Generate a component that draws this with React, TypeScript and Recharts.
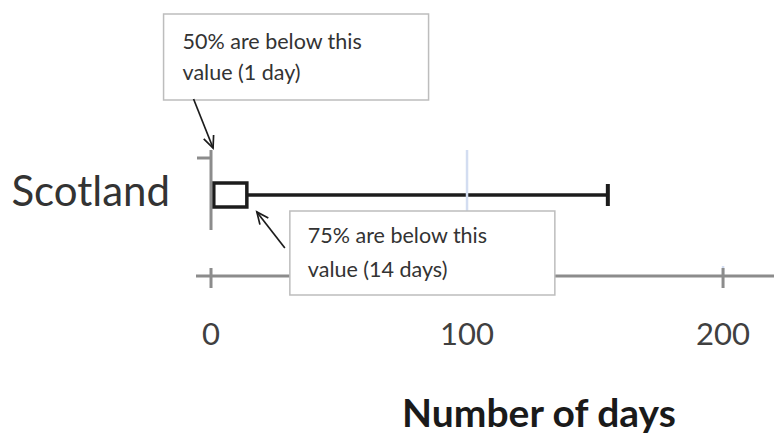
import React from "react";
import { ComposedChart, Bar, XAxis, YAxis, ReferenceLine, ReferenceDot, Label } from "recharts";

// one box plot row: days to resolve, Scotland
const categories = ["Scotland"];
const lowerQuartileDays = [1];
const medianDays = [1];
const upperQuartileDays = [14];
const maxDays = [155];
const dayTicks = [0, 100, 200];
const medianNote = ["50% are below this", "value (1 day)"];
const quartileNote = ["75% are below this", "value (14 days)"];

const data = categories.map((name, i) => ({
	name,
	lower: lowerQuartileDays[i],
	box: upperQuartileDays[i] - lowerQuartileDays[i],
	whisker: maxDays[i] - upperQuartileDays[i],
	median: medianDays[i],
	q1: lowerQuartileDays[i],
	q3: upperQuartileDays[i],
}));

const FONT = "Lato, 'Open Sans', sans-serif";
const AXIS_GREY = "#8c8c8c";
const GRID_BLUE = "#d3ddf1";
const INK = "#1c1c1c";

const BoxShape = (props: any) => {
	const { x, y, width, height, payload } = props;
	const mx = x + (width * (payload.median - payload.q1)) / (payload.q3 - payload.q1 || 1);
	return (
		<g>
			<rect x={x} y={y} width={width} height={height} fill="#fff" stroke={INK} strokeWidth={3.5} />
			<line x1={mx} y1={y} x2={mx} y2={y + height} stroke={INK} strokeWidth={3.5} />
		</g>
	);
};

const WhiskerShape = (props: any) => {
	const { x, y, width, height } = props;
	const cy = y + height / 2;
	return (
		<g>
			<line x1={x} y1={cy} x2={x + width} y2={cy} stroke={INK} strokeWidth={3.5} />
			<line x1={x + width} y1={cy - 11} x2={x + width} y2={cy + 11} stroke={INK} strokeWidth={4} />
		</g>
	);
};

const Arrow = ({ x1, y1, x2, y2 }: any) => {
	const a = Math.atan2(y2 - y1, x2 - x1);
	const len = 13;
	const s = 0.42;
	const p1 = [x2 - len * Math.cos(a - s), y2 - len * Math.sin(a - s)];
	const p2 = [x2 - len * Math.cos(a + s), y2 - len * Math.sin(a + s)];
	return (
		<g stroke={INK} strokeWidth={1.7} fill="none">
			<line x1={x1} y1={y1} x2={x2} y2={y2} />
			<path d={`M${p1[0]},${p1[1]} L${x2},${y2} L${p2[0]},${p2[1]}`} />
		</g>
	);
};

// callout box + arrow, offsets relative to the point the arrow hits
const Note = ({ cx, cy, lines, box, textX, baselines, arrow }: any) => (
	<g>
		<rect
			x={cx + box[0]}
			y={cy + box[1]}
			width={box[2]}
			height={box[3]}
			fill="#fff"
			stroke="#bdbdbd"
			strokeWidth={1.5}
		/>
		{lines.map((t: string, i: number) => (
			<text key={i} x={cx + textX} y={cy + baselines[i]} fontFamily={FONT} fontSize={21.5} fill="#333">
				{t}
			</text>
		))}
		<Arrow x1={cx + arrow[0]} y1={cy + arrow[1]} x2={cx + arrow[2]} y2={cy + arrow[3]} />
	</g>
);

const DayTick = (props: any) => {
	const { x, y, payload } = props;
	return (
		<text x={x} y={y + 69} textAnchor="middle" fontFamily={FONT} fontSize={31} fill="#404040">
			{payload.value}
		</text>
	);
};

const NameTick = (props: any) => {
	const { x, y, payload } = props;
	return (
		<text x={x - 26} y={y + 11} textAnchor="end" fontFamily={FONT} fontSize={42} fill="#333">
			{payload.value}
		</text>
	);
};

// short tick crossing the x axis line (drawn as reference lines so callouts can cover them)
const tickMark = (p: any) => {
	const bottom = Math.max(p.y1, p.y2);
	return <line x1={p.x1} y1={bottom - 8} x2={p.x1} y2={bottom + 12} stroke={AXIS_GREY} strokeWidth={3} />;
};

export default function App() {
	return (
		<div style={{ position: "absolute", left: 0, top: 0, background: "#fff" }}>
			<ComposedChart
				layout="vertical"
				width={774}
				height={434}
				data={data}
				margin={{ top: 150, right: 0, bottom: 0, left: 0 }}
			>
				<XAxis
					type="number"
					domain={[-5.86, 219.9]}
					allowDataOverflow
					ticks={dayTicks}
					height={158}
					axisLine={{ stroke: AXIS_GREY, strokeWidth: 3 }}
					tickLine={false}
					tickSize={0}
					tickMargin={0}
					tick={<DayTick />}
				>
					<Label
						value="Number of days"
						position="insideBottom"
						offset={7}
						dx={54}
						fontFamily={FONT}
						fontSize={39}
						fontWeight={700}
						fill="#1a1a1a"
					/>
				</XAxis>
				<YAxis
					type="category"
					dataKey="name"
					width={196}
					padding={{ top: 0, bottom: 36 }}
					axisLine={false}
					tickLine={false}
					tickSize={0}
					tickMargin={0}
					tick={<NameTick />}
				/>
				<ReferenceLine
					x={100}
					shape={(p: any) => (
						<line
							x1={p.x1}
							y1={Math.min(p.y1, p.y2)}
							x2={p.x2}
							y2={Math.max(p.y1, p.y2)}
							stroke={GRID_BLUE}
							strokeWidth={2.5}
						/>
					)}
				/>
				<ReferenceLine
					x={200}
					shape={(p: any) => {
						const bottom = Math.max(p.y1, p.y2);
						return <line x1={p.x1} y1={bottom - 10} x2={p.x2} y2={bottom} stroke={GRID_BLUE} strokeWidth={2.5} />;
					}}
				/>
				{dayTicks.map((t) => (
					<ReferenceLine key={t} x={t} shape={tickMark} />
				))}
				<ReferenceLine
					x={0}
					shape={(p: any) => {
						const top = Math.min(p.y1, p.y2);
						return (
							<g stroke={AXIS_GREY} strokeWidth={3}>
								<line x1={p.x1} y1={top} x2={p.x1} y2={top + 80} />
								<line x1={p.x1 - 14} y1={top + 8} x2={p.x1} y2={top + 8} />
							</g>
						);
					}}
				/>
				<Bar dataKey="lower" stackId="bp" barSize={24} fill="none" isAnimationActive={false} />
				<Bar dataKey="box" stackId="bp" barSize={24} shape={<BoxShape />} isAnimationActive={false} />
				<Bar dataKey="whisker" stackId="bp" barSize={24} shape={<WhiskerShape />} isAnimationActive={false} />
				<ReferenceDot
					x={medianDays[0]}
					y={categories[0]}
					shape={(p: any) => (
						<Note
							cx={p.cx}
							cy={p.cy}
							lines={medianNote}
							box={[-50, -181, 265, 86]}
							textX={-31}
							baselines={[-146, -115]}
							arrow={[-20, -96, -0.5, -47]}
						/>
					)}
				/>
				<ReferenceDot
					x={upperQuartileDays[0]}
					y={categories[0]}
					shape={(p: any) => (
						<Note
							cx={p.cx}
							cy={p.cy}
							lines={quartileNote}
							box={[43, 16, 265, 84]}
							textX={61}
							baselines={[48, 82]}
							arrow={[38, 53, 10, 17]}
						/>
					)}
				/>
			</ComposedChart>
		</div>
	);
}
